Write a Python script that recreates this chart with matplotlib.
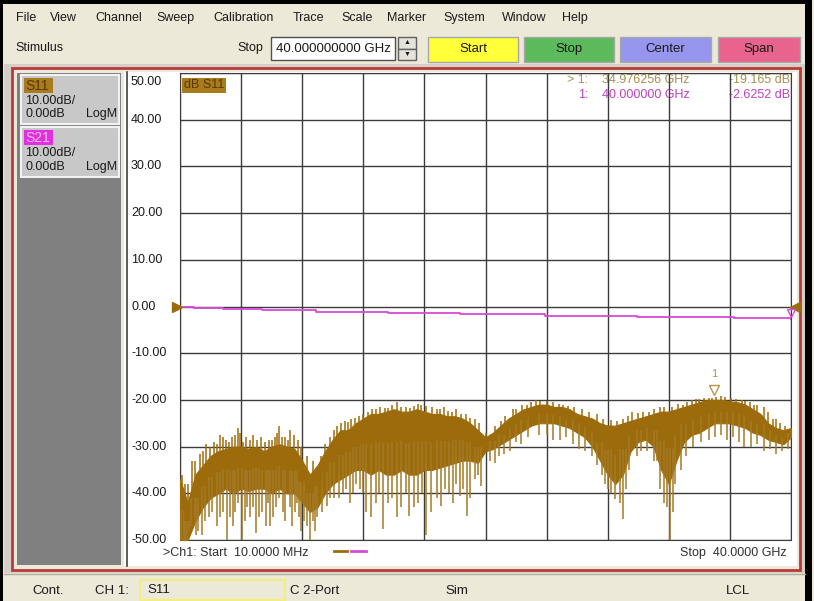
import matplotlib
matplotlib.use('Agg')
import matplotlib.pyplot as plt
import matplotlib.transforms as mtransforms
from matplotlib.patches import Rectangle

plt.rcParams['font.family'] = ['Liberation Sans', 'DejaVu Sans']

# ---- data ----
freq_ghz = [0.0, 0.5, 1.0, 1.5, 2.0, 2.5, 3.0, 3.5, 4.0, 4.5,
            5.0, 5.5, 6.0, 6.5, 7.0, 7.5, 8.0, 8.5, 9.0, 9.5,
            10.0, 10.5, 11.0, 11.5, 12.0, 12.5, 13.0, 13.5, 14.0, 14.5,
            15.0, 15.5, 16.0, 16.5, 17.0, 17.5, 18.0, 18.5, 19.0, 19.5,
            20.0, 20.5, 21.0, 21.5, 22.0, 22.5, 23.0, 23.5, 24.0, 24.5,
            25.0, 25.5, 26.0, 26.5, 27.0, 27.5, 28.0, 28.5, 29.0, 29.5,
            30.0, 30.5, 31.0, 31.5, 32.0, 32.5, 33.0, 33.5, 34.0, 34.5,
            35.0, 35.5, 36.0, 36.5, 37.0, 37.5, 38.0, 38.5, 39.0, 39.5,
            40.0]

# upper / lower edge of the dense S11 band (dB)
s11_top = [-37, -42, -36, -34, -32, -31, -30.5, -30, -30, -30.5,
           -30, -31, -30, -29.5, -30, -30.5, -33, -36, -34, -31,
           -28.5, -26.5, -26.5, -25, -24, -23, -23, -22.5, -22, -22.5,
           -22.5, -22, -22.5, -23, -23, -23.5, -23.5, -24, -25, -26.5,
           -28, -27, -25.5, -24, -23, -22, -21.5, -21, -21, -21.5,
           -21.5, -22, -23, -23.5, -24, -25, -25.5, -25.5, -25, -24.5,
           -24, -23.5, -23, -22.5, -22.5, -22, -21.5, -21, -20.5, -20,
           -20, -20, -20.3, -20.5, -21, -22, -23, -25, -26, -26.5,
           -26]
s11_bot = [-50, -50, -46, -43, -41, -40, -39, -40, -39, -39.5,
           -39, -39, -40, -39, -40, -40, -42, -44, -43, -40,
           -38, -37, -36, -35, -35, -36, -35, -36, -36, -35,
           -36, -36, -35, -35, -34.5, -34, -33.5, -33, -33, -33.5,
           -31, -30.5, -29.5, -28.5, -27.5, -26.5, -25.5, -25, -25, -25,
           -25.5, -26, -27, -28, -30, -33, -36, -38, -36, -31,
           -29, -28.5, -30, -35, -38, -33, -29, -27.5, -27, -26,
           -25, -25, -25, -25.5, -26, -27, -27.5, -28.5, -29, -29.5,
           -28]

# isolated noise spikes of S11 (frequency, tip level)
spike_dn_f = [0.05, 0.25, 0.35, 0.45, 0.6, 0.75, 0.95, 1.05, 1.2, 1.45, 1.65, 1.9,
              2.1, 2.4, 2.6, 2.8, 3.1, 3.3, 3.45, 3.6, 3.8, 4.05, 4.25, 4.4, 4.6,
              4.8, 5.0, 5.2, 5.4, 5.6, 5.75, 5.9, 6.1, 6.3, 6.5, 6.75, 6.9, 7.2,
              7.35, 7.5, 7.65, 7.8, 7.95, 8.1, 8.3, 8.5, 8.7, 8.85, 9.0, 9.3, 9.6,
              9.8, 10.1, 10.4, 10.7, 10.9, 11.1, 11.3, 11.55, 11.8, 12.0, 12.2,
              12.5, 12.8, 13.0, 13.3, 13.6, 13.9, 14.2, 14.5, 14.8, 15.0, 15.3,
              15.6, 15.85, 16.1, 16.4, 16.8, 17.1, 17.35, 17.6, 17.85, 18.1, 18.3,
              18.55, 18.8, 19.0, 19.3, 19.5, 19.7, 20.3, 20.6, 20.9, 21.2, 21.6,
              22.0, 22.3, 22.8, 23.5, 24.0, 24.4, 24.9, 25.3, 25.7, 26.1, 26.5,
              27.0, 27.3, 27.6, 27.8, 28.0, 28.2, 28.5, 28.8, 29.0, 29.2, 29.4,
              29.9, 30.2, 30.6, 31.0, 31.2, 31.45, 31.7, 31.9, 32.1, 32.25, 32.4,
              32.8, 33.1, 33.6, 34.1, 34.6, 35.0, 35.4, 35.8, 36.2, 36.6, 36.9,
              37.4, 37.8, 38.2, 38.6, 39.0, 39.4, 39.8]
spike_dn_db = [-50, -50, -50, -50, -48, -47, -45, -49, -48, -49, -46, -45,
               -44, -47, -45, -44, -50, -45, -47, -44, -42, -50, -46, -43, -45,
               -43, -48.5, -45, -44, -47, -42, -47, -45, -43, -41, -44, -46, -43,
               -47, -44, -42, -45, -48, -46, -47, -50, -46, -48, -45, -44, -42.7,
               -41, -41, -41, -40, -39, -42, -40, -38, -39, -40, -44,
               -45, -42, -40, -47.6, -42, -41, -45, -43, -40, -44.8, -43,
               -42, -40, -49, -44, -41, -42.7, -39, -40, -42, -38, -40.6,
               -39, -44.8, -41, -37, -36, -38.4, -33, -33.5, -32, -31.5, -31,
               -29, -29.5, -28, -27.5, -27.5, -28.5, -28.5, -28, -29.5, -30.6, -31,
               -32, -34, -36, -38, -39, -40, -41.3, -42, -45.5, -39, -35,
               -32, -31, -31, -33, -33, -39, -42, -43, -50, -44, -38,
               -35, -32, -30, -29, -28.5, -28, -27.5, -28.5, -28, -29, -30,
               -30, -29.5, -31, -30.5, -31.5, -31, -30.5]
spike_up_f = [0.1, 0.3, 0.55, 0.8, 1.0, 1.3, 1.5, 1.7, 1.95, 2.2, 2.4, 2.6, 2.8,
              3.0, 3.2, 3.4, 3.6, 3.8, 3.9, 4.1, 4.3, 4.55, 4.8, 5.05, 5.3, 5.55,
              5.8, 6.0, 6.2, 6.35, 6.5, 6.7, 6.9, 7.05, 7.2, 7.45, 7.7, 7.9, 8.3,
              8.7, 9.2, 9.5, 9.8, 10.05, 10.3, 10.55, 10.8, 11.0, 11.2, 11.45,
              11.7, 12.0, 12.3, 12.6, 12.85, 13.1, 13.4, 13.6, 13.85, 14.2, 14.5,
              14.8, 15.05, 15.3, 15.55, 15.8, 16.1, 16.5, 16.8, 17.0, 17.3, 17.55,
              17.8, 18.1, 18.4, 18.7, 19.0, 19.3, 19.6, 20.0, 20.6, 21.0, 21.3,
              21.8, 22.0, 22.4, 22.7, 23.0, 23.3, 23.6, 24.0, 24.4, 24.8, 25.1,
              25.4, 25.8, 26.3, 26.8, 27.3, 27.7, 28.2, 28.6, 29.0, 29.3, 29.6,
              30.0, 30.3, 30.7, 31.0, 31.4, 31.7, 32.2, 32.6, 32.9, 33.2, 33.5,
              33.8, 34.0, 34.3, 34.6, 34.8, 35.1, 35.4, 35.7, 36.1, 36.4, 36.8,
              37.0, 37.3, 37.6, 37.8, 38.2, 38.5, 38.8, 39.0, 39.3, 39.6]
spike_up_db = [-36, -38, -38, -33, -33, -31.5, -31, -29.5, -30, -29, -29.5, -27.5, -28,
               -28.5, -29, -28, -27.5, -26, -27, -29, -28, -28.5, -27.5, -28.5, -28, -29,
               -28.5, -28.5, -28, -27, -25.5, -28, -28, -28.5, -26.5, -27.5, -28.5, -30, -32,
               -33, -32, -29.5, -28, -26.5, -25.5, -25, -24.5, -24.8, -24, -23.8,
               -23.5, -23, -22.5, -22, -22, -21.5, -21.8, -21.8, -21, -20.5, -21.5,
               -21.5, -21.8, -21.3, -20.8, -21, -21.4, -21.5, -22, -22, -21.5, -22.4,
               -22.5, -22, -23, -23, -23.8, -24, -25, -27, -25.5, -24.5, -23.5,
               -22, -22, -21, -21, -20.5, -20, -20.3, -20.2, -20.5, -20.8, -21,
               -21.3, -21.5, -22, -22.5, -23, -24, -24.3, -24.5, -24, -23.5, -22.5,
               -22.8, -22.5, -22.5, -22, -21.5, -21.5, -21.5, -20.8, -21, -20.5, -20,
               -19.8, -19.8, -19.6, -19.5, -19.5, -19.3, -19.2, -19.4, -19.5, -19.8, -20,
               -20.2, -20.5, -21, -21, -21.5, -22.5, -24, -24, -25, -25.5]

# S21 transmission, stepped slope
s21_freq = [0.01, 0.9, 2.8, 5.4, 8.9, 13.6, 18.3, 23.9, 29.9, 36.3, 40.0]
s21_db = [-0.15, -0.35, -0.6, -0.85, -1.1, -1.4, -1.7, -2.0, -2.25, -2.5, -2.63]

mk1_s11 = (34.976256, -19.165)
mk1_s21 = (40.0, -2.6252)

y_ticks = [50, 40, 30, 20, 10, 0, -10, -20, -30, -40, -50]
x_ticks = [0, 4, 8, 12, 16, 20, 24, 28, 32, 36, 40]

menu_items = ['File', 'View', 'Channel', 'Sweep', 'Calibration', 'Trace',
              'Scale', 'Marker', 'System', 'Window', 'Help']
buttons = ['Start', 'Stop', 'Center', 'Span']

BROWN = '#9c6c0c'
TAN = '#b89448'
SPIKE = '#a47a26'
MAGENTA = '#d84ad8'
PANEL = '#ece9d8'

fig = plt.figure(figsize=(8.14, 6.01), dpi=100)
bg = fig.add_axes([0, 0, 1, 1])
bg.set_xlim(0, 814)
bg.set_ylim(601, 0)
bg.axis('off')


def box(x0, y0, x1, y1, fc, ec='none', lw=1.0, z=1):
    bg.add_patch(Rectangle((x0, y0), x1 - x0, y1 - y0, facecolor=fc,
                           edgecolor=ec, linewidth=lw, zorder=z))


def txt(x, y, s, ha='left', color='#1a1a1a', size=9.5, **kw):
    bg.text(x, y, s, ha=ha, va='center', color=color, fontsize=size, zorder=5, **kw)


# window chrome
box(0, 0, 814, 601, PANEL, z=0)
box(0, 0, 812, 4, 'black')
box(0, 0, 3, 601, 'black')
box(805, 0, 812, 601, 'black')

menu_x = [16, 50, 95, 156, 213, 293, 341, 387, 443, 502, 562]
for name, x in zip(menu_items, menu_x):
    txt(x, 18, name, size=9)

txt(15, 48, 'Stimulus', size=9)
txt(237, 48, 'Stop', size=9)
box(271, 37, 395, 60, 'white', ec='#505050')
txt(276, 48.5, '40.000000000 GHz', size=9.5)
box(398, 37, 416, 48.5, '#e4e2da', ec='#606060')
box(398, 48.5, 416, 60, '#e4e2da', ec='#606060')
txt(407, 43, '▲', ha='center', size=5)
txt(407, 54.5, '▼', ha='center', size=5)

btn_x = [(428, 518), (524, 614), (620, 711), (718, 800)]
btn_fc = ['#ffff3a', '#5cba5c', '#9696ee', '#e8648e']
for name, (x0, x1), fc in zip(buttons, btn_x, btn_fc):
    box(x0, 37, x1, 62, fc, ec='#a8a8a8')
    txt((x0 + x1) / 2, 49, name, ha='center', size=9.5)

# main channel window
box(4, 64, 805, 573, '#d4d0c8')
box(12, 68, 800, 570, PANEL, ec='#b83a3a', lw=2)
box(17, 73, 121, 565, '#808080')
box(124, 72, 797, 566, 'white')
bg.plot([127, 127], [72, 566], color='#404040', lw=1.2, zorder=2)

# trace info boxes
box(21, 75, 119, 124, '#c8c8c8', ec='#f2f2f2', lw=1.5)
box(21, 127, 119, 177, '#c8c8c8', ec='#f2f2f2', lw=1.5)
box(24, 78, 53, 93, '#a87c1c', z=2)
txt(25, 85.5, 'S11', color='#5a3800', size=10)
txt(25, 101, '10.00dB/', size=9)
txt(25, 114, '0.00dB', size=9)
txt(117, 114, 'LogM', ha='right', size=9)
box(24, 130, 53, 145, '#e030e0', z=2)
txt(25, 137.5, 'S21', color='#f4c0f4', size=10)
txt(25, 153, '10.00dB/', size=9)
txt(25, 167, '0.00dB', size=9)
txt(117, 167, 'LogM', ha='right', size=9)

# marker readouts (under the grid)
txt(588, 80, '> 1:', ha='right', color='#a89050', size=9)
txt(602, 80, '34.976256 GHz', color='#a89050', size=9)
txt(790, 80, '-19.165 dB', ha='right', color='#a89050', size=9)
txt(588, 95, '1:', ha='right', color='#c040c0', size=9)
txt(602, 95, '40.000000 GHz', color='#c040c0', size=9)
txt(790, 95, '-2.6252 dB', ha='right', color='#c040c0', size=9)

box(182, 78, 226, 93, '#a87c1c', z=2)
txt(184, 85.5, 'dB S11', color='#5a3800', size=9)

txt(163, 553, '>Ch1: Start  10.0000 MHz', size=9, color='#303030')
bg.plot([334, 347], [551, 551], color=BROWN, lw=2, zorder=5)
bg.plot([351, 366], [551, 551], color=MAGENTA, lw=2, zorder=5)
txt(787, 553, 'Stop  40.0000 GHz', ha='right', size=9, color='#303030')

# status bar
box(4, 574, 805, 601, PANEL)
bg.plot([4, 805], [574, 574], color='#b0ac9c', lw=1, zorder=2)
txt(32, 591, 'Cont.')
txt(95, 591, 'CH 1:')
box(140, 580, 285, 600, PANEL, ec='#f2ee80', lw=1.5)
txt(147, 590, 'S11')
txt(290, 591, 'C 2-Port')
txt(445, 591, 'Sim')
txt(726, 591, 'LCL')

# ---- measurement grid ----
ax = fig.add_axes([180 / 814, 1 - 540 / 601, 611 / 814, 467 / 601])
ax.set_facecolor('none')
ax.set_xlim(0, 40)
ax.set_ylim(-50, 50)
ax.set_xticks(x_ticks)
ax.set_yticks(y_ticks)
ax.tick_params(length=0, labelbottom=False, labelleft=False)
ax.grid(True, color='#3c3c3c', lw=1.0)
ax.set_axisbelow(False)
for sp in ax.spines.values():
    sp.set_color('#3c3c3c')

ylab_tr = mtransforms.blended_transform_factory(bg.transData, ax.transData)
for v in y_ticks:
    if v == 50:
        tr = ylab_tr + mtransforms.ScaledTranslation(0, -0.03, fig.dpi_scale_trans)
        bg.text(131, v, f'{v:.2f}', transform=tr, va='top', ha='left', fontsize=9, color='#1a1a1a')
    else:
        bg.text(131, v, f'{v:.2f}', transform=ylab_tr, va='center', ha='left', fontsize=9, color='#1a1a1a')

# S11 band and spikes
ax.fill_between(freq_ghz, s11_bot, s11_top, color=BROWN, lw=0.8, zorder=3)


def band_mid(f):
    i = int(round(f * 2))
    return (s11_top[i] + s11_bot[i]) / 2


ax.vlines(spike_dn_f, spike_dn_db, [band_mid(f) for f in spike_dn_f],
          colors=SPIKE, lw=1.1, zorder=3.1)
ax.vlines(spike_up_f, [band_mid(f) for f in spike_up_f], spike_up_db,
          colors=BROWN, lw=1.1, zorder=3.2)

# S21 trace
ax.step(s21_freq, s21_db, where='post', color=MAGENTA, lw=1.3, zorder=4)

# reference level arrows
shift_l = mtransforms.ScaledTranslation(-0.035, 0, fig.dpi_scale_trans)
shift_r = mtransforms.ScaledTranslation(0.035, 0, fig.dpi_scale_trans)
ax.plot([0], [0], marker='>', ms=7, color=BROWN, clip_on=False,
        transform=ax.transData + shift_l, zorder=5)
ax.plot([40], [0], marker='<', ms=7, color=BROWN, clip_on=False,
        transform=ax.transData + shift_r, zorder=5)

# markers
up6 = mtransforms.ScaledTranslation(0, 0.06, fig.dpi_scale_trans)
up16 = mtransforms.ScaledTranslation(0, 0.17, fig.dpi_scale_trans)
ax.plot([mk1_s11[0]], [mk1_s11[1]], marker='v', ms=7, mfc='white', mec=TAN,
        mew=1, transform=ax.transData + up6, zorder=6)
ax.text(mk1_s11[0], mk1_s11[1], '1', ha='center', va='bottom', fontsize=8,
        color=TAN, transform=ax.transData + up16, zorder=6)
ax.plot([mk1_s21[0]], [mk1_s21[1]], marker='v', ms=6, mfc='none', mec=MAGENTA,
        mew=1, clip_on=False, transform=ax.transData + up6, zorder=6)

fig.savefig('out.png', dpi=100)
